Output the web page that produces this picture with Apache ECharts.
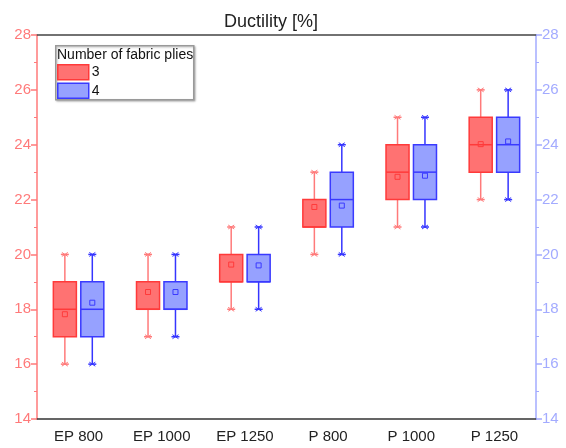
<!DOCTYPE html>
<html>
<head>
<meta charset="utf-8">
<style>
  html, body { margin: 0; padding: 0; background: #fff; }
  #main { width: 566px; height: 448px; }
</style>
<script src="https://cdn.jsdelivr.net/npm/echarts@6/dist/echarts.min.js"></script>
</head>
<body>
<div id="main"></div>
<script>
// box plot data: [min, Q1, median, Q3, max, mean]
var categories = ['EP 800', 'EP 1000', 'EP 1250', 'P 800', 'P 1000', 'P 1250'];
var plies3 = [
  [16, 17, 18, 19, 20, 17.82],
  [17, 18, 18, 19, 20, 18.63],
  [18, 19, 19, 20, 21, 19.63],
  [20, 21, 21, 22, 23, 21.73],
  [21, 22, 23, 24, 25, 22.83],
  [22, 23, 24, 25, 26, 24.02]
];
var plies4 = [
  [16, 17, 18, 19, 20, 18.24],
  [17, 18, 18, 19, 20, 18.63],
  [18, 19, 19, 20, 21, 19.6],
  [20, 21, 22, 23, 24, 21.78],
  [21, 22, 23, 24, 25, 22.87],
  [22, 23, 24, 25, 26, 24.12]
];
var yTicks = [14, 16, 18, 20, 22, 24, 26, 28];

(function () {
  var myChart = echarts.init(document.getElementById('main'));

  // 给 custom 系列加上类目索引
  function withIndex(arr) {
    return arr.map(function (d, i) { return [i].concat(d); });
  }

  // 画一个箱线图 offset 为相对于类目中心的比例
  function makeRender(offsetRatio, fill, border, whisker) {
    return function (params, api) {
      var band = api.size([1, 0])[0];
      var cx = api.coord([api.value(0), 0])[0] + band * offsetRatio;
      var w = band * 0.277;
      var yMin = api.coord([0, api.value(1)])[1];
      var yQ1 = api.coord([0, api.value(2)])[1];
      var yMed = api.coord([0, api.value(3)])[1];
      var yQ3 = api.coord([0, api.value(4)])[1];
      var yMax = api.coord([0, api.value(5)])[1];
      var yMean = api.coord([0, api.value(6)])[1];
      var wl = { stroke: whisker, lineWidth: 1.5 };
      var children = [
        { type: 'line', shape: { x1: cx, y1: yMax, x2: cx, y2: yQ3 }, style: wl },
        { type: 'line', shape: { x1: cx, y1: yQ1, x2: cx, y2: yMin }, style: wl }
      ];
      [yMax, yMin].forEach(function (y) {
        children.push({ type: 'line', shape: { x1: cx - 4, y1: y, x2: cx + 4, y2: y }, style: { stroke: whisker, lineWidth: 1.5 } });
        children.push({ type: 'line', shape: { x1: cx - 3, y1: y - 2, x2: cx + 3, y2: y + 2 }, style: { stroke: whisker, lineWidth: 1 } });
        children.push({ type: 'line', shape: { x1: cx - 3, y1: y + 2, x2: cx + 3, y2: y - 2 }, style: { stroke: whisker, lineWidth: 1 } });
      });
      children.push({
        type: 'rect',
        shape: { x: cx - w / 2, y: yQ3, width: w, height: yQ1 - yQ3 },
        style: { fill: fill, stroke: border, lineWidth: 1.5 }
      });
      children.push({ type: 'line', shape: { x1: cx - w / 2, y1: yMed, x2: cx + w / 2, y2: yMed }, style: { stroke: border, lineWidth: 1.5 } });
      children.push({
        type: 'rect',
        shape: { x: cx - 2.5, y: yMean - 2.5, width: 5, height: 5 },
        style: { fill: 'none', stroke: border, lineWidth: 1 }
      });
      return { type: 'group', children: children };
    };
  }

  var redFill = 'rgba(255,60,60,0.72)', redBorder = '#ff3a3a', redWhisker = '#ff7a7a';
  var blueFill = 'rgba(110,125,255,0.72)', blueBorder = '#3a3aff', blueWhisker = '#3535ff';
  var leftColor = '#ff7a7a', rightColor = '#a3abff';

  var option = {
    animation: false,
    title: {
      text: 'Ductility [%]',
      left: 266, top: 8,
      textAlign: 'center',
      textStyle: { fontFamily: 'Liberation Sans, Arial', fontSize: 18, fontWeight: 'normal', color: '#222' }
    },
    grid: { left: 37, right: 30, top: 35, bottom: 29 },
    legend: {
      orient: 'vertical',
      left: 57, top: 64,
      padding: 0,
      itemWidth: 31, itemHeight: 15, itemGap: 2,
      icon: 'rect',
      textStyle: { fontFamily: 'Liberation Sans, Arial', fontSize: 14, color: '#111', padding: [0, 0, 0, -2] },
      data: [
        { name: '3', itemStyle: { color: redFill, borderColor: redBorder, borderWidth: 1.5 } },
        { name: '4', itemStyle: { color: blueFill, borderColor: blueBorder, borderWidth: 1.5 } }
      ]
    },
    graphic: [
      {
        type: 'rect', left: 55, top: 45, z: -1,
        shape: { width: 138, height: 54 },
        style: { fill: '#fff', stroke: '#999', lineWidth: 1.5, shadowColor: 'rgba(0,0,0,0.25)', shadowOffsetX: 1, shadowOffsetY: 1, shadowBlur: 2 }
      },
      {
        type: 'text', left: 57, top: 48,
        style: { text: 'Number of fabric plies', fontFamily: 'Liberation Sans, Arial', fontSize: 14, fill: '#111' }
      }
    ],
    xAxis: [{
      type: 'category',
      data: categories,
      axisLine: { lineStyle: { color: '#333', width: 1.5 } },
      axisTick: { alignWithLabel: true, length: 5, lineStyle: { color: '#333', width: 1.5 } },
      axisLabel: { fontFamily: 'Liberation Sans, Arial', fontSize: 15, color: '#222', margin: 10 }
    }, {
      type: 'category',
      position: 'top',
      data: categories,
      axisLine: { lineStyle: { color: '#444', width: 1.5 } },
      axisTick: { show: false },
      axisLabel: { show: false }
    }],
    yAxis: [{
      type: 'value',
      position: 'left',
      min: yTicks[0], max: yTicks[yTicks.length - 1], interval: 2,
      splitLine: { show: false },
      axisLine: { show: true, lineStyle: { color: leftColor, width: 1.5 } },
      axisTick: { show: true, length: 6, lineStyle: { color: leftColor, width: 1.5 } },
      minorTick: { show: true, splitNumber: 2, length: 3, lineStyle: { color: leftColor, width: 1 } },
      axisLabel: { fontFamily: 'Liberation Sans, Arial', fontSize: 15, color: leftColor, margin: 6 }
    }, {
      type: 'value',
      position: 'right',
      min: yTicks[0], max: yTicks[yTicks.length - 1], interval: 2,
      splitLine: { show: false },
      axisLine: { show: true, lineStyle: { color: rightColor, width: 1.5 } },
      axisTick: { show: true, length: 6, lineStyle: { color: rightColor, width: 1.5 } },
      minorTick: { show: true, splitNumber: 2, length: 3, lineStyle: { color: rightColor, width: 1 } },
      axisLabel: { fontFamily: 'Liberation Sans, Arial', fontSize: 15, color: rightColor, margin: 6 }
    }],
    series: [{
      name: '3',
      type: 'custom',
      itemStyle: { color: redFill },
      renderItem: makeRender(-0.165, redFill, redBorder, redWhisker),
      encode: { x: 0, y: [1, 5] },
      data: withIndex(plies3)
    }, {
      name: '4',
      type: 'custom',
      itemStyle: { color: blueFill },
      renderItem: makeRender(0.165, blueFill, blueBorder, blueWhisker),
      encode: { x: 0, y: [1, 5] },
      data: withIndex(plies4)
    }]
  };
  myChart.setOption(option);
})();
</script>
</body>
</html>
